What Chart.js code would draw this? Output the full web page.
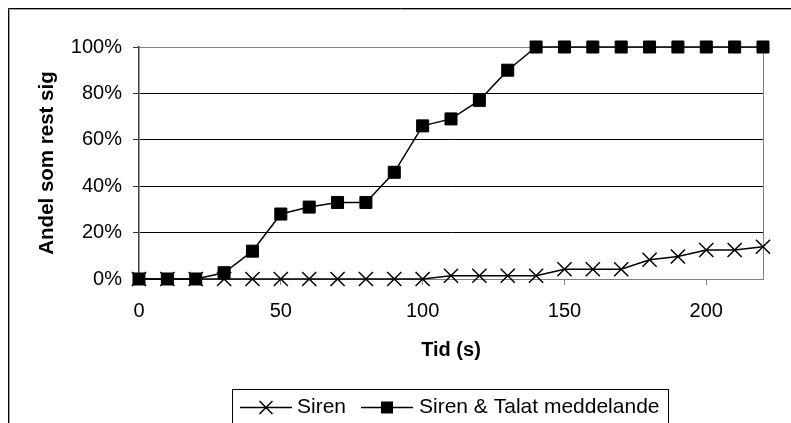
<!DOCTYPE html>
<html>
<head>
<meta charset="utf-8">
<script src="https://cdn.jsdelivr.net/npm/chart.js@4/dist/chart.umd.min.js"></script>
<style>
  html, body { margin: 0; padding: 0; background: #ffffff; }
  #wrap { width: 791px; height: 423px; position: relative; }
</style>
</head>
<body>
<div id="wrap"><canvas id="c" width="791" height="423"></canvas></div>
<script>
// ---- data ----
const timeValues = [0, 10, 20, 30, 40, 50, 60, 70, 80, 90, 100, 110, 120, 130, 140, 150, 160, 170, 180, 190, 200, 210, 220];
const sirenValues = [0, 0, 0, 0, 0, 0, 0, 0, 0, 0, 0, 1.4, 1.4, 1.4, 1.4, 4.2, 4.2, 4.2, 8.3, 9.7, 12.5, 12.5, 13.9];
const sirenTalatValues = [0, 0, 0, 2.7, 12, 28, 31, 33, 33, 46, 66, 69, 77, 90, 100, 100, 100, 100, 100, 100, 100, 100, 100];
const xTickValues = [0, 50, 100, 150, 200];
const yTickValues = [0, 20, 40, 60, 80, 100];
const seriesNames = ['Siren', 'Siren & Talat meddelande'];
const xTitle = 'Tid (s)';
const yTitle = 'Andel som rest sig';

const FONT = "'Liberation Sans', Arial, Helvetica, sans-serif";

const toPoints = (vals) => vals.map((v, i) => ({ x: timeValues[i], y: v }));

const framePlugin = {
  id: 'frame',
  beforeDatasetsDraw(chart) {
    const { ctx, chartArea: a } = chart;
    ctx.save();
    ctx.strokeStyle = '#808080';
    ctx.lineWidth = 1;
    ctx.beginPath();
    ctx.moveTo(a.left, a.top + 0.5);
    ctx.lineTo(a.right + 0.5, a.top + 0.5);
    ctx.lineTo(a.right + 0.5, a.bottom);
    ctx.stroke();
    ctx.restore();
  },
  afterDraw(chart) {
    const ctx = chart.ctx;
    ctx.save();
    // outer frame (left and top visible)
    ctx.strokeStyle = '#000000';
    ctx.lineWidth = 1;
    ctx.beginPath();
    ctx.moveTo(8.5, 430);
    ctx.lineTo(8.5, 8.5);
    ctx.lineTo(800, 8.5);
    ctx.stroke();
    ctx.strokeStyle = '#a0a0a0';
    ctx.beginPath();
    ctx.moveTo(9.5, 430);
    ctx.lineTo(9.5, 9.5);
    ctx.lineTo(800, 9.5);
    ctx.stroke();

    // legend box
    ctx.strokeStyle = '#000000';
    ctx.lineWidth = 1;
    ctx.strokeRect(232.5, 389.5, 436, 60);

    const ly = 407.5;
    ctx.lineWidth = 1.5;
    // item 1: line with x marker
    ctx.beginPath();
    ctx.moveTo(240, ly); ctx.lineTo(292, ly);
    ctx.stroke();
    const cx = 266, r = 6.5;
    ctx.beginPath();
    ctx.moveTo(cx - r, ly - r); ctx.lineTo(cx + r, ly + r);
    ctx.moveTo(cx - r, ly + r); ctx.lineTo(cx + r, ly - r);
    ctx.stroke();
    // item 2: line with square marker
    ctx.beginPath();
    ctx.moveTo(361, ly); ctx.lineTo(413, ly);
    ctx.stroke();
    ctx.fillStyle = '#000000';
    ctx.fillRect(387 - 6, ly - 6, 12, 12);

    ctx.font = '21px ' + FONT;
    ctx.textBaseline = 'middle';
    ctx.textAlign = 'left';
    ctx.fillStyle = '#000000';
    ctx.fillText(seriesNames[0], 297, ly);
    ctx.fillText(seriesNames[1], 419, ly);
    ctx.restore();
  }
};

new Chart(document.getElementById('c'), {
  type: 'line',
  data: {
    datasets: [
      {
        label: seriesNames[0],
        data: toPoints(sirenValues),
        borderColor: '#000000',
        borderWidth: 1.5,
        pointStyle: 'crossRot',
        pointRadius: 10,
        pointBorderWidth: 1.5,
        pointBorderColor: '#000000',
        pointBackgroundColor: '#000000',
        tension: 0,
        clip: false,
        order: 1
      },
      {
        label: seriesNames[1],
        data: toPoints(sirenTalatValues),
        borderColor: '#000000',
        borderWidth: 1.5,
        pointStyle: 'rect',
        pointRadius: 8.5,
        pointBorderWidth: 1,
        pointBorderColor: '#000000',
        pointBackgroundColor: '#000000',
        tension: 0,
        clip: false,
        order: 0
      }
    ]
  },
  options: {
    responsive: false,
    animation: false,
    devicePixelRatio: 1,
    events: [],
    layout: { padding: { left: 25, top: 47, right: 28, bottom: 54 } },
    plugins: {
      legend: { display: false },
      tooltip: { enabled: false },
      title: { display: false }
    },
    scales: {
      x: {
        type: 'linear',
        min: 0,
        max: 220,
        afterBuildTicks: (s) => { s.ticks = xTickValues.map(v => ({ value: v })); },
        afterFit: (s) => { s.height = 90; },
        ticks: {
          color: '#000000',
          font: { family: FONT, size: 20 },
          padding: 14,
          maxRotation: 0,
          autoSkip: false
        },
        grid: {
          drawOnChartArea: false,
          drawTicks: true,
          tickLength: 6,
          tickColor: '#808080',
          color: '#808080'
        },
        border: { display: true, color: '#808080', width: 1 },
        title: {
          display: true,
          text: xTitle,
          color: '#000000',
          font: { family: FONT, size: 20, weight: 'bold' },
          padding: { top: 0, bottom: 7 }
        }
      },
      y: {
        type: 'linear',
        min: 0,
        max: 100,
        afterBuildTicks: (s) => { s.ticks = yTickValues.map(v => ({ value: v })); },
        afterFit: (s) => { s.width = 114; },
        ticks: {
          color: '#000000',
          font: { family: FONT, size: 20 },
          padding: 11,
          callback: (v) => v + '%'
        },
        grid: {
          drawOnChartArea: true,
          drawTicks: true,
          tickLength: 6,
          tickColor: '#333333',
          color: (c) => (c.tick && c.tick.value === 100) ? '#808080' : (c.tick && c.tick.value === 0 ? 'rgba(0,0,0,0)' : '#000000'),
          lineWidth: 1
        },
        border: { display: true, color: '#404040', width: 1.5 },
        title: {
          display: true,
          text: yTitle,
          color: '#000000',
          font: { family: FONT, size: 20.5, weight: 'bold' },
          padding: { top: 10, bottom: 0 }
        }
      }
    }
  },
  plugins: [framePlugin]
});
</script>
</body>
</html>
